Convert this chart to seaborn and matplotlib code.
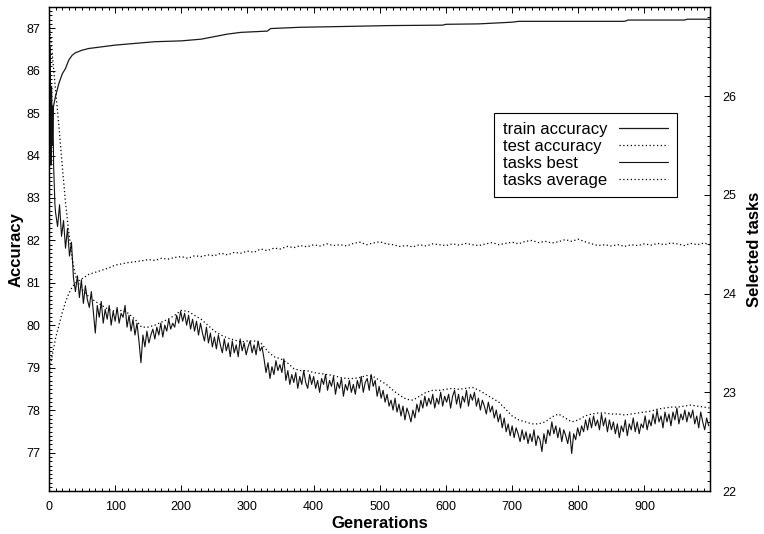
import numpy as np
import matplotlib
matplotlib.use("Agg")
import matplotlib.pyplot as plt
from matplotlib.ticker import MultipleLocator
import seaborn as sns

# train accuracy (left axis)
train_gen = [0, 3, 6, 10, 15, 20, 25, 30, 35, 40,
             50, 60, 80, 100, 130, 160, 200, 230, 250, 270,
             290, 330, 335, 380, 450, 515, 595, 600, 650, 700,
             710, 870, 875, 960, 965, 999]
train_acc = [84.6, 84.9, 85.1, 85.4, 85.7, 85.92, 86.05, 86.25, 86.36, 86.42,
             86.48, 86.52, 86.56, 86.6, 86.64, 86.68, 86.7, 86.74, 86.8, 86.86,
             86.9, 86.93, 86.99, 87.02, 87.04, 87.06, 87.07, 87.09, 87.1, 87.14,
             87.16, 87.16, 87.19, 87.19, 87.21, 87.21]

# test accuracy and tasks average share generations
avg_gen = [0, 5, 10, 15, 20, 25, 30, 35, 40, 45, 50] + list(range(60, 1000, 10)) + [999]
test_acc = [78.9, 79.3, 79.7, 80.0, 80.3, 80.55, 80.75, 80.9, 81.0, 81.05, 81.1,
            81.2, 81.25, 81.3, 81.35, 81.42, 81.45, 81.48, 81.5, 81.52, 81.55,
            81.53, 81.58, 81.56, 81.6, 81.62, 81.58, 81.64, 81.62, 81.66, 81.64,
            81.7, 81.66, 81.72, 81.7, 81.75, 81.72, 81.8, 81.76, 81.82, 81.8,
            81.86, 81.83, 81.88, 81.85, 81.9, 81.87, 81.92, 81.88, 81.9, 81.87,
            81.93, 81.96, 81.9, 81.94, 81.97, 81.92, 81.9, 81.86, 81.88, 81.85,
            81.9, 81.87, 81.92, 81.9, 81.88, 81.92, 81.89, 81.93, 81.9, 81.88,
            81.92, 81.95, 81.9, 81.93, 81.96, 81.92, 81.98, 82.0, 81.95, 81.98,
            81.94, 81.97, 82.02, 81.98, 82.03, 81.97, 81.92, 81.88, 81.9, 81.87,
            81.9, 81.86, 81.9, 81.88, 81.92, 81.89, 81.93, 81.9, 81.94, 81.92,
            81.88, 81.93, 81.9, 81.94,
            81.9]
tasks_avg = [26.78, 26.42, 26.06, 25.70, 25.30, 24.92, 24.62, 24.36, 24.18, 24.10, 24.04,
             23.97, 23.92, 23.88, 23.84, 23.82, 23.83, 23.80, 23.74, 23.66, 23.66,
             23.68, 23.71, 23.74, 23.78, 23.83, 23.82, 23.78, 23.74, 23.68, 23.62,
             23.58, 23.55, 23.53, 23.51, 23.52, 23.52, 23.50, 23.42, 23.36, 23.34,
             23.30, 23.24, 23.22, 23.22, 23.20, 23.19, 23.18, 23.17, 23.15, 23.14,
             23.14, 23.15, 23.17, 23.16, 23.12, 23.08, 23.02, 22.97, 22.93, 22.92,
             22.96, 23.00, 23.02, 23.02, 23.03, 23.04, 23.03, 23.04, 23.05, 23.02,
             22.98, 22.94, 22.90, 22.83, 22.76, 22.72, 22.70, 22.68, 22.68, 22.70,
             22.75, 22.78, 22.74, 22.70, 22.72, 22.76, 22.78, 22.79, 22.79, 22.78,
             22.78, 22.77, 22.78, 22.79, 22.80, 22.81, 22.83, 22.84, 22.85, 22.85,
             22.86, 22.87, 22.86, 22.85,
             22.84]

# tasks best (right axis)
best_gen = list(range(0, 10)) + list(range(10, 1000, 3))
tasks_best = [26.75, 25.4, 26.5, 25.3, 26.1, 25.5, 25.9, 25.3, 25.1, 24.9,
              24.82, 24.68, 24.90, 24.58, 24.74, 24.46, 24.66, 24.38, 24.52, 24.16,
              24.02, 24.18, 23.96, 24.14, 23.90, 24.08, 23.94, 23.86, 24.02, 23.82,
              23.60, 23.88, 23.76, 23.92, 23.70, 23.84, 23.74, 23.88, 23.68, 23.82,
              23.72, 23.86, 23.70, 23.80, 23.76, 23.88, 23.66, 23.78, 23.62, 23.74,
              23.58, 23.70, 23.52, 23.30, 23.58, 23.46, 23.62, 23.50, 23.58, 23.64,
              23.54, 23.66, 23.58, 23.70, 23.56, 23.68, 23.62, 23.74, 23.64, 23.70,
              23.66, 23.78, 23.70, 23.82, 23.72, 23.80, 23.68, 23.78, 23.64, 23.74,
              23.62, 23.72, 23.58, 23.70, 23.60, 23.52, 23.66, 23.50, 23.60, 23.46,
              23.56, 23.44, 23.58, 23.48, 23.40, 23.54, 23.42, 23.50, 23.36, 23.52,
              23.40, 23.48, 23.36, 23.54, 23.42, 23.50, 23.38, 23.46, 23.52, 23.40,
              23.48, 23.38, 23.52, 23.42, 23.46, 23.34, 23.20, 23.30, 23.14, 23.26,
              23.18, 23.32, 23.22, 23.28, 23.20, 23.34, 23.12, 23.22, 23.08, 23.18,
              23.10, 23.20, 23.04, 23.16, 23.08, 23.22, 23.10, 23.04, 23.18, 23.08,
              23.16, 23.04, 23.12, 23.00, 23.14, 23.08, 23.18, 23.02, 23.12, 23.06,
              23.16, 22.98, 23.10, 23.04, 23.14, 22.96, 23.08, 23.02, 23.12, 23.00,
              23.08, 22.98, 23.12, 23.04, 23.16, 23.00, 23.10, 23.14, 23.02, 23.18,
              23.06, 23.12, 22.96, 23.06, 22.94, 23.02, 22.90, 22.98, 22.86, 22.92,
              22.82, 22.94, 22.80, 22.88, 22.76, 22.86, 22.72, 22.84, 22.78, 22.70,
              22.82, 22.74, 22.88, 22.80, 22.92, 22.84, 22.96, 22.86, 22.94, 22.88,
              22.98, 22.84, 22.94, 22.88, 23.00, 22.86, 22.96, 22.90, 22.98, 22.84,
              22.96, 23.02, 22.88, 22.98, 22.84, 22.96, 22.90, 23.02, 22.86, 22.98,
              22.92, 23.00, 22.86, 22.94, 22.82, 22.92, 22.86, 22.78, 22.90, 22.80,
              22.86, 22.74, 22.82, 22.70, 22.78, 22.64, 22.74, 22.60, 22.68, 22.56,
              22.66, 22.54, 22.64, 22.58, 22.50, 22.62, 22.52, 22.60, 22.48, 22.58,
              22.50, 22.62, 22.46, 22.56, 22.52, 22.40, 22.58, 22.48, 22.62, 22.56,
              22.70, 22.58, 22.66, 22.54, 22.64, 22.50, 22.62, 22.56, 22.48, 22.60,
              22.38, 22.58, 22.52, 22.64, 22.56, 22.66, 22.60, 22.72, 22.62, 22.74,
              22.64, 22.76, 22.66, 22.72, 22.62, 22.78, 22.66, 22.74, 22.60, 22.72,
              22.62, 22.70, 22.58, 22.68, 22.54, 22.66, 22.60, 22.72, 22.56, 22.68,
              22.62, 22.74, 22.60, 22.70, 22.58, 22.68, 22.64, 22.76, 22.62, 22.72,
              22.66, 22.78, 22.68, 22.82, 22.70, 22.76, 22.64, 22.80, 22.70, 22.78,
              22.66, 22.80, 22.72, 22.84, 22.68, 22.78, 22.72, 22.82, 22.70, 22.80,
              22.74, 22.82, 22.68, 22.76, 22.64, 22.80, 22.70, 22.62, 22.74, 22.66]

sns.set_style("ticks")
plt.rcParams['font.family'] = ['Liberation Sans', 'DejaVu Sans']
plt.rcParams['text.color'] = 'black'
plt.rcParams['axes.labelcolor'] = 'black'

fig = plt.figure(figsize=(7.64, 5.34), dpi=100)
ax = fig.add_axes([0.0641, 0.0805, 0.8652, 0.9058])
ax2 = ax.twinx()

dot = (0, (1, 2))
sns.lineplot(x=train_gen, y=train_acc, ax=ax, color='#1a1a1a', lw=0.9, label='train accuracy', legend=False)
sns.lineplot(x=avg_gen, y=test_acc, ax=ax, color='black', lw=0.9, linestyle=dot, label='test accuracy', legend=False)
sns.lineplot(x=best_gen, y=tasks_best, ax=ax2, color='#111111', lw=0.8, label='tasks best', legend=False)
sns.lineplot(x=avg_gen, y=tasks_avg, ax=ax2, color='black', lw=0.9, linestyle=dot, label='tasks average', legend=False)

ax.set_xlim(0, 999)
ax.set_ylim(76.1, 87.49)
ax2.set_ylim(22.0, 26.9)

ax.xaxis.set_major_locator(MultipleLocator(100))
ax.xaxis.set_minor_locator(MultipleLocator(10))
ax.yaxis.set_major_locator(MultipleLocator(1))
ax.yaxis.set_minor_locator(MultipleLocator(0.1))
ax2.yaxis.set_major_locator(MultipleLocator(1))
ax2.yaxis.set_minor_locator(MultipleLocator(0.1))
ax.set_xticks(range(0, 1000, 100))

for a in (ax, ax2):
    for s in a.spines.values():
        s.set_linewidth(0.9)
        s.set_color('black')
ax.tick_params(axis='x', which='both', direction='in', top=True, bottom=True, labelsize=9, pad=7, width=0.7, colors='black')
ax.tick_params(axis='y', which='both', direction='in', left=True, right=False, labelsize=9, pad=6, width=0.7, colors='black')
ax2.tick_params(axis='y', which='both', direction='in', right=True, labelsize=9, pad=9, width=0.7, colors='black')
for a in (ax, ax2):
    a.tick_params(which='major', length=4.5)
    a.tick_params(which='minor', length=2.2)

ax.set_xlabel('Generations', fontsize=12, fontweight='bold')
ax.set_ylabel('Accuracy', fontsize=12, fontweight='bold')
ax2.set_ylabel('Selected tasks', fontsize=12, fontweight='bold')
ax.xaxis.set_label_coords(0.5, -0.052)
ax.yaxis.set_label_coords(-0.039, 0.5)
ax2.yaxis.set_label_coords(1.056, 0.5)

h1, l1 = ax.get_legend_handles_labels()
h2, l2 = ax2.get_legend_handles_labels()
leg = ax2.legend(h1 + h2, l1 + l2, loc='upper right', bbox_to_anchor=(0.950, 0.7815),
                 borderaxespad=0, markerfirst=False, fontsize=12, handlelength=2.9,
                 handletextpad=0.7, labelspacing=0.12, borderpad=0.55, fancybox=False,
                 framealpha=1, edgecolor='black')
leg.get_frame().set_linewidth(0.8)

# gnuplot style: labels left aligned, samples right aligned
renderer = fig.canvas.get_renderer()
for col in leg._legend_handle_box.get_children():
    items = col.get_children()
    w = max(it.get_bbox(renderer).width for it in items)
    for it in items:
        it.width = w
        it.mode = 'expand'
    col.align = 'left'

fig.savefig('out.png', dpi=100)
